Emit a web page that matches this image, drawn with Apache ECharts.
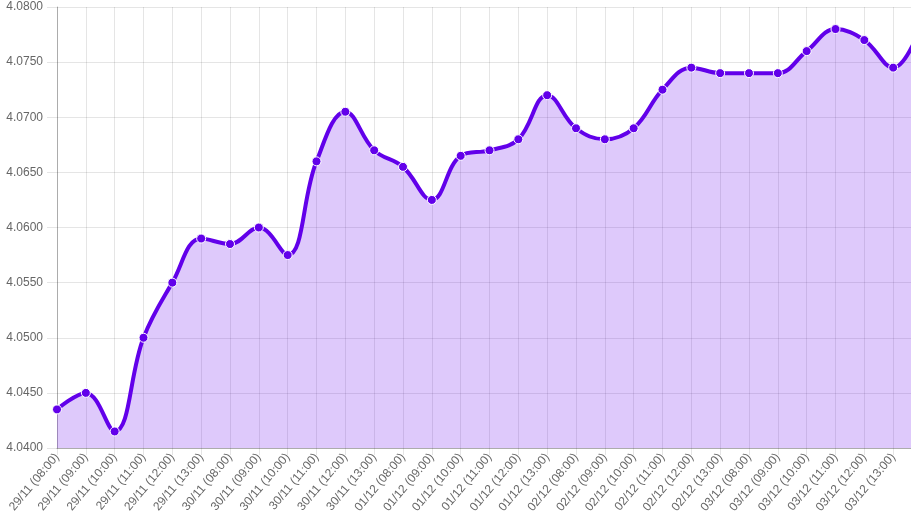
<!DOCTYPE html>
<html>
<head>
<meta charset="utf-8">
<script src="https://cdn.jsdelivr.net/npm/echarts@6/dist/echarts.min.js"></script>
<style>
  html, body { margin: 0; padding: 0; background: #fff; }
  #chart { width: 911px; height: 522px; }
</style>
</head>
<body>
<div id="chart"></div>
<script>
// categories (last one lies just past the right edge of the canvas)
var categories = [
  '29/11 (08:00)', '29/11 (09:00)', '29/11 (10:00)', '29/11 (11:00)', '29/11 (12:00)', '29/11 (13:00)',
  '30/11 (08:00)', '30/11 (09:00)', '30/11 (10:00)', '30/11 (11:00)', '30/11 (12:00)', '30/11 (13:00)',
  '01/12 (08:00)', '01/12 (09:00)', '01/12 (10:00)', '01/12 (11:00)', '01/12 (12:00)', '01/12 (13:00)',
  '02/12 (08:00)', '02/12 (09:00)', '02/12 (10:00)', '02/12 (11:00)', '02/12 (12:00)', '02/12 (13:00)',
  '03/12 (08:00)', '03/12 (09:00)', '03/12 (10:00)', '03/12 (11:00)', '03/12 (12:00)', '03/12 (13:00)',
  '03/12 (14:00)'
];
var rates = [
  4.0435, 4.0450, 4.0415, 4.0500, 4.0550, 4.0590,
  4.0585, 4.0600, 4.0575, 4.0660, 4.0705, 4.0670,
  4.0655, 4.0625, 4.0665, 4.0670, 4.0680, 4.0720,
  4.0690, 4.0680, 4.0690, 4.0725, 4.0745, 4.0740,
  4.0740, 4.0740, 4.0760, 4.0780, 4.0770, 4.0745,
  4.0785
];
var yMin = 4.04, yMax = 4.08, yStep = 0.005;

var myChart = echarts.init(document.getElementById('chart'));
var gridColor = 'rgba(0,0,0,0.1)';
var lastIdx = categories.length - 1;
var option = {
  animation: false,
  grid: { left: 57, top: 7, bottom: 74, right: -11, containLabel: false, outerBoundsMode: 'none' },
  xAxis: {
    type: 'category',
    data: categories,
    boundaryGap: false,
    axisLine: { lineStyle: { color: 'rgba(0,0,0,0.25)', width: 1 } },
    axisTick: { show: true, interval: 0, length: 7, lineStyle: { color: gridColor } },
    splitLine: { show: true, interval: 0, lineStyle: { color: gridColor } },
    axisLabel: {
      // last label is cut off by the canvas edge in the original
      interval: function (i) { return i < lastIdx; },
      rotate: 50, margin: 7,
      color: '#666', fontSize: 12, fontFamily: 'Liberation Sans, Arial, sans-serif'
    }
  },
  yAxis: {
    type: 'value',
    min: yMin, max: yMax, interval: yStep,
    axisLine: { show: true, lineStyle: { color: 'rgba(0,0,0,0.25)', width: 1 } },
    axisTick: { show: true, length: 10, lineStyle: { color: gridColor } },
    splitLine: { show: true, lineStyle: { color: gridColor } },
    axisLabel: {
      margin: 14,
      color: '#666', fontSize: 12, fontFamily: 'Liberation Sans, Arial, sans-serif',
      formatter: function (v) { return v.toFixed(4); }
    }
  },
  series: [{
    type: 'line',
    data: rates,
    smooth: 0.4,
    symbol: 'circle',
    symbolSize: 9,
    showAllSymbol: true,
    lineStyle: { color: '#6200ea', width: 4 },
    itemStyle: { color: '#6200ea', borderColor: '#fff', borderWidth: 1 },
    areaStyle: { color: 'rgba(98,0,234,0.21)', opacity: 1, origin: 'start' }
  }]
};
myChart.setOption(option);
</script>
</body>
</html>
